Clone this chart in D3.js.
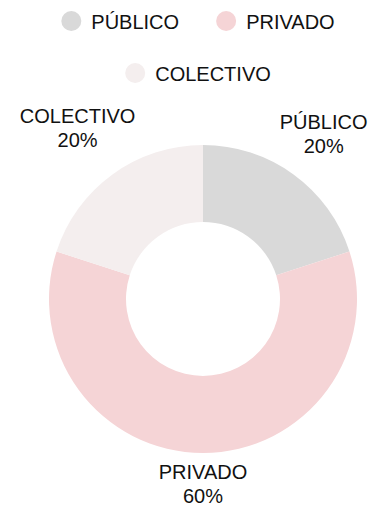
<!DOCTYPE html>
<html>
<head>
<meta charset="utf-8">
<script src="https://cdn.jsdelivr.net/npm/d3@7"></script>
<style>
  html, body { margin: 0; padding: 0; background: #fff; }
  svg { display: block; font-family: "Liberation Sans", Arial, sans-serif; }
</style>
</head>
<body>
<svg id="chart" width="371" height="508"></svg>
<script>
// Modal share of transport
const categories = ["PÚBLICO", "PRIVADO", "COLECTIVO"];
const values = [20, 60, 20];
const colors = ["#d9d9d9", "#f5d4d6", "#f4eeee"];

const W = 371, H = 508;
const cx = 203, cy = 299;
const outerR = 154, innerR = 77;
const fontSize = 20;

const svg = d3.select("#chart");

const data = categories.map((c, i) => ({ name: c, value: values[i], color: colors[i] }));

const pie = d3.pie().sort(null).value(d => d.value);
const arc = d3.arc().innerRadius(innerR).outerRadius(outerR);
const arcs = pie(data);

const g = svg.append("g").attr("transform", `translate(${cx},${cy})`);

g.selectAll("path.slice")
  .data(arcs)
  .join("path")
  .attr("class", "slice")
  .attr("d", arc)
  .attr("fill", d => d.data.color);

// Outside labels: name + percentage, pushed out so the block clears the ring
const total = d3.sum(values);
const labelBase = 162;
const lineH = 24;
arcs.forEach(a => {
  const mid = (a.startAngle + a.endAngle) / 2;
  const sx = Math.sin(mid), sy = -Math.cos(mid);
  const t = g.append("text")
    .attr("text-anchor", "middle")
    .attr("font-size", fontSize)
    .attr("fill", "#111");
  const l1 = t.append("tspan").text(a.data.name);
  const l2 = t.append("tspan").text(Math.round(a.data.value / total * 100) + "%");
  const w = Math.max(l1.node().getComputedTextLength(), l2.node().getComputedTextLength());
  const h = lineH * 1.8;
  const r = labelBase + Math.abs(sx) * w / 2 + Math.abs(sy) * h / 2;
  const x = sx * r, y = sy * r + 1.5;
  l1.attr("x", x).attr("y", y - lineH / 2 + fontSize * 0.35);
  l2.attr("x", x).attr("y", y + lineH / 2 + fontSize * 0.35);
});

// Legend: rows of circle markers with labels, centred
const legendRows = [[0, 1], [2]];
const legendCenter = 198;
const rowY = [21, 73];
const markerR = 10, textGap = 10, itemGap = 37;

legendRows.forEach((row, ri) => {
  const rowG = svg.append("g");
  let x = 0;
  row.forEach(i => {
    const item = rowG.append("g").attr("transform", `translate(${x},0)`);
    item.append("circle")
      .attr("cx", markerR).attr("cy", rowY[ri]).attr("r", markerR)
      .attr("fill", colors[i]);
    const tx = item.append("text")
      .attr("x", markerR * 2 + textGap)
      .attr("y", rowY[ri] + 7.5)
      .attr("font-size", fontSize)
      .attr("fill", "#111")
      .text(categories[i]);
    x += markerR * 2 + textGap + tx.node().getComputedTextLength() + itemGap;
  });
  const rowW = x - itemGap;
  rowG.attr("transform", `translate(${legendCenter - rowW / 2},0)`);
});
</script>
</body>
</html>
